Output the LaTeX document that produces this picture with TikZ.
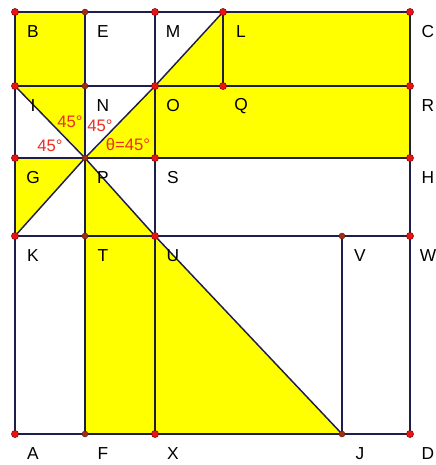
\documentclass[tikz,border=0pt]{standalone}
\usepackage{fontspec}
\setmainfont{Liberation Sans}
\usepackage{xcolor}
\usepackage{tikz}
\usetikzlibrary{positioning,calc}

\definecolor{gridline}{RGB}{30,30,75}
\definecolor{dotred}{RGB}{230,20,20}
\definecolor{dotdark}{RGB}{160,45,20}
\definecolor{anglered}{RGB}{235,45,35}
\definecolor{yellowfill}{RGB}{255,255,0}

\begin{document}
\begin{tikzpicture}[x=0.75pt,y=-0.75pt,
    edge/.style={draw=gridline,line width=1.1pt},
    region/.style={fill=yellowfill},
    ptlabel/.style={font=\fontsize{13}{15}\selectfont,inner sep=0pt},
    anglabel/.style={text=anglered,font=\fontsize{12.5}{14}\selectfont,inner sep=0pt},
    bigdot/.style={fill=dotred,draw=red!45!black,line width=0.3pt},
    smalldot/.style={fill=dotdark,draw=dotdark!60!black,line width=0.3pt}]
    \useasboundingbox (0,0) rectangle (436,465);
    % Points of the figure (pixel grid, y downwards)
    \foreach \p/\x/\y in {B/15/12, E/85/12, M/155/12, L/223/12, C/410/12,
                          I/15/86, N/85/86, O/155/86, Q/223/86, R/410/86,
                          G/15/158, P/85/158, S/155/158, H/410/158,
                          K/15/236, T/85/236, U/155/236, V/342/236, W/410/236,
                          A/15/434, F/85/434, X/155/434, J/342/434, D/410/434}
        \coordinate (\p) at (\x,\y);

    % Yellow regions
    \fill[region] (B) -- (E) -- (N) -- (I) -- cycle;
    \fill[region] (I) -- (N) -- (P) -- cycle;
    \fill[region] (P) -- (O) -- (S) -- cycle;
    \fill[region] (O) -- (L) -- (C) -- (R) -- cycle;
    \fill[region] (O) -- (R) -- (H) -- (S) -- cycle;
    \fill[region] (G) -- (P) -- (K) -- cycle;
    \fill[region] (P) -- (T) -- (U) -- cycle;
    \fill[region] (T) -- (U) -- (J) -- (F) -- cycle;

    % Grid lines
    \draw[edge] (B) -- (C);
    \draw[edge] (I) -- (R);
    \draw[edge] (G) -- (H);
    \draw[edge] (K) -- (W);
    \draw[edge] (A) -- (D);
    \draw[edge] (B) -- (A);
    \draw[edge] (E) -- (F);
    \draw[edge] (M) -- (X);
    \draw[edge] (L) -- (Q);
    \draw[edge] (V) -- (J);
    \draw[edge] (C) -- (D);
    % Diagonals
    \draw[edge] (I) -- (P) -- (U) -- (J);
    \draw[edge] (K) -- (P) -- (O) -- (L);

    % Dots
    \foreach \p in {B,M,L,C,I,O,Q,R,G,S,H,K,U,W,A,X,D}
        \filldraw[bigdot] (\p) circle (3.6);
    \foreach \p in {E,N,P,T,F,V,J}
        \filldraw[smalldot] (\p) circle (3);

    % Labels
    \foreach \p in {B,E,M,L,C,I,N,O,Q,R,G,P,S,H,K,T,U,V,W,A,F,X,J,D}
        \node[ptlabel] (l\p) at ([shift={(18,20)}]\p) {\p};
    \node[anglabel] (angA) at (70,122) {45°};
    \node[anglabel] (angB) at (100,126) {45°};
    \node[anglabel] (angC) at (50,146) {45°};
    \node[anglabel] (angD) at (128,145) {θ=45°};
\end{tikzpicture}
\end{document}
